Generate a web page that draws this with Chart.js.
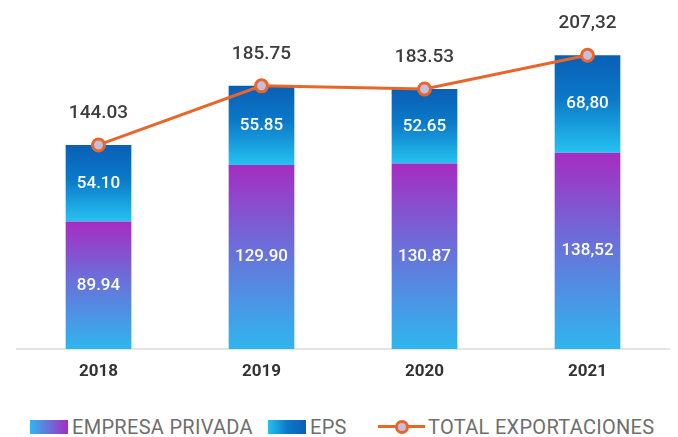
<!DOCTYPE html>
<html>
<head>
<meta charset="utf-8">
<script src="https://cdn.jsdelivr.net/npm/chart.js@4.4.1/dist/chart.umd.min.js"></script>
<style>
  html, body { margin: 0; padding: 0; background: #fff; }
  #wrap { position: relative; width: 678px; height: 437px; font-family: Roboto, "Open Sans", sans-serif; }
  #chartBox { position: absolute; left: 0; top: 0; width: 678px; height: 400px; }
  .lg { position: absolute; }
  .box { top: 420px; width: 38px; height: 14px; }
  .txt { top: 416px; font-size: 20px; line-height: 22px; color: #6e6e6e; letter-spacing: 0.3px; white-space: nowrap; }
  #b1 { left: 30px; background: linear-gradient(to right, #2fb6ee, #6b6fd9, #a62cc2); }
  #b2 { left: 268px; background: linear-gradient(to right, #25c2f0, #0b79c9, #0a5fb4); }
  #ln { left: 378px; top: 425px; width: 47px; height: 3px; background: #e8662c; }
  #dot { left: 395px; top: 420px; width: 8px; height: 8px; border: 3px solid #e8662c; border-radius: 50%; background: #c3bfdc; }
</style>
</head>
<body>
<div id="wrap">
  <div id="chartBox"><canvas id="exportChart"></canvas></div>
  <div class="lg box" id="b1"></div>
  <div class="lg txt" style="left:72px">EMPRESA PRIVADA</div>
  <div class="lg box" id="b2"></div>
  <div class="lg txt" style="left:310px">EPS</div>
  <div class="lg" id="ln"></div>
  <div class="lg" id="dot"></div>
  <div class="lg txt" style="left:428px">TOTAL EXPORTACIONES</div>
</div>
<script>
const years = ["2018", "2019", "2020", "2021"];
const privada = [89.94, 129.90, 130.87, 138.52];
const eps = [54.10, 55.85, 52.65, 68.80];
const total = [144.03, 185.75, 183.53, 207.32];
// labels as printed on the original (2021 uses a comma)
const privadaLabels = ["89.94", "129.90", "130.87", "138,52"];
const epsLabels = ["54.10", "55.85", "52.65", "68,80"];
const totalLabels = ["144.03", "185.75", "183.53", "207,32"];

const privadaStops = [[0, "#a62cc2"], [0.45, "#6b6fd9"], [1, "#2fb6ee"]];
const epsStops = [[0, "#0a5fb4"], [0.45, "#0b79c9"], [1, "#25c2f0"]];

function barGradient(context, stops) {
  const chart = context.chart;
  const area = chart.chartArea;
  if (!area || context.type !== "data") return stops[1][1];
  const i = context.dataIndex;
  const start = context.datasetIndex === 1 ? privada[i] : 0;
  const end = start + context.dataset.data[i];
  const y = chart.scales.y;
  const g = chart.ctx.createLinearGradient(0, y.getPixelForValue(end), 0, y.getPixelForValue(start));
  stops.forEach(s => g.addColorStop(s[0], s[1]));
  return g;
}

const valueLabels = {
  id: "valueLabels",
  afterDatasetsDraw(chart) {
    const ctx = chart.ctx;
    ctx.save();
    ctx.textAlign = "center";
    ctx.textBaseline = "middle";
    // inside bars
    ctx.fillStyle = "#ffffff";
    ctx.font = "500 17px Roboto";
    [privadaLabels, epsLabels].forEach((labels, di) => {
      chart.getDatasetMeta(di).data.forEach((bar, i) => {
        ctx.fillText(labels[i], bar.x, (bar.y + bar.base) / 2);
      });
    });
    // totals above line points
    ctx.fillStyle = "#3d3d3d";
    ctx.font = "500 19px Roboto";
    chart.getDatasetMeta(2).data.forEach((pt, i) => {
      ctx.fillText(totalLabels[i], pt.x, pt.y - 32);
    });
    ctx.restore();
  }
};

new Chart(document.getElementById("exportChart").getContext("2d"), {
  type: "bar",
  data: {
    labels: years,
    datasets: [
      {
        label: "EMPRESA PRIVADA",
        data: privada,
        backgroundColor: c => barGradient(c, privadaStops),
        barPercentage: 0.403,
        categoryPercentage: 1,
        order: 1
      },
      {
        label: "EPS",
        data: eps,
        backgroundColor: c => barGradient(c, epsStops),
        barPercentage: 0.403,
        categoryPercentage: 1,
        order: 1
      },
      {
        type: "line",
        label: "TOTAL EXPORTACIONES",
        data: total,
        stack: "total",
        borderColor: "#e8662c",
        borderWidth: 3,
        pointRadius: 6,
        pointBorderWidth: 3,
        pointBackgroundColor: "#c3bfdc",
        pointBorderColor: "#e8662c",
        tension: 0,
        order: 0
      }
    ]
  },
  options: {
    responsive: true,
    maintainAspectRatio: false,
    animation: false,
    layout: { padding: { top: 9, left: 17, right: 6, bottom: 0 } },
    plugins: {
      legend: { display: false },
      tooltip: { enabled: false }
    },
    scales: {
      x: {
        stacked: true,
        grid: { display: false, drawTicks: false },
        border: { display: true, color: "#e4e4e4", width: 2 },
        ticks: {
          padding: 13,
          color: "#333333",
          font: { family: "Roboto", size: 17, weight: "bold" }
        },
        afterFit(scale) { scale.height = 51; }
      },
      y: {
        stacked: true,
        display: false,
        min: 0,
        max: 240
      }
    }
  },
  plugins: [valueLabels]
});
</script>
</body>
</html>
